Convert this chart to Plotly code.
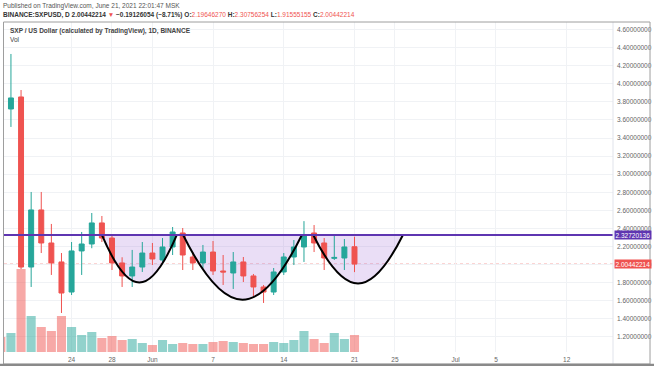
import plotly.graph_objects as go
import datetime as _dt

# ---------------- data ----------------
dates = ["2021-05-17", "2021-05-18", "2021-05-19", "2021-05-20", "2021-05-21", "2021-05-22",
         "2021-05-23", "2021-05-24", "2021-05-25", "2021-05-26", "2021-05-27", "2021-05-28",
         "2021-05-29", "2021-05-30", "2021-05-31", "2021-06-01", "2021-06-02", "2021-06-03",
         "2021-06-04", "2021-06-05", "2021-06-06", "2021-06-07", "2021-06-08", "2021-06-09",
         "2021-06-10", "2021-06-11", "2021-06-12", "2021-06-13", "2021-06-14", "2021-06-15",
         "2021-06-16", "2021-06-17", "2021-06-18", "2021-06-19", "2021-06-20", "2021-06-21"]
opens = [3.844, 3.722, 3.855, 1.972, 2.604, 2.238, 2.028, 1.695, 2.150, 2.227, 2.460, 2.293,
         2.017, 1.873, 1.972, 2.127, 2.050, 2.194, 2.349, 2.083, 2.017, 2.138, 1.928, 1.906,
         2.028, 1.873, 1.751, 1.695, 1.917, 2.083, 2.194, 2.349, 2.238, 2.068, 2.072, 2.19646270]
highs = [3.930, 4.331, 3.932, 2.803, 2.803, 2.449, 2.127, 2.249, 2.360, 2.570, 2.537, 2.330,
         2.080, 2.161, 2.249, 2.238, 2.293, 2.415, 2.404, 2.138, 2.216, 2.260, 2.105, 2.138,
         2.083, 1.895, 1.773, 1.961, 2.127, 2.271, 2.480, 2.437, 2.293, 2.316, 2.282, 2.30756254]
lows = [3.620, 3.523, 1.950, 1.751, 2.127, 1.884, 1.463, 1.662, 1.884, 2.180, 2.249, 1.939,
        1.751, 1.751, 1.917, 1.994, 2.017, 2.105, 1.939, 1.939, 1.961, 1.884, 1.773, 1.729,
        1.806, 1.651, 1.574, 1.662, 1.884, 1.994, 2.028, 2.138, 1.939, 2.050, 1.939, 1.91555155]
closes = [3.733, 3.844, 1.972, 2.604, 2.238, 2.017, 1.684, 2.150, 2.227, 2.460, 2.293, 2.017,
          1.873, 1.972, 2.127, 2.061, 2.194, 2.360, 2.105, 2.017, 2.138, 1.928, 1.917, 2.028,
          1.873, 1.751, 1.695, 1.917, 2.083, 2.194, 2.327, 2.238, 2.072, 2.078, 2.194, 2.00442214]
volumes_m = [15, 19, 83, 36, 25, 21, 36, 25, 17, 20, 14, 16, 12, 13, 9, 7, 12, 8, 9, 8, 8, 10,
             11, 10, 9, 8, 8, 10, 9, 12, 21, 13, 9, 19, 13, 17]

price_ticks = [1.2, 1.4, 1.6, 1.8, 2.0, 2.2, 2.4, 2.6, 2.8, 3.0, 3.2, 3.4, 3.6, 3.8, 4.0, 4.2, 4.4, 4.6]
time_tick_vals = ["2021-05-24", "2021-05-28", "2021-06-01", "2021-06-07", "2021-06-14",
                  "2021-06-21", "2021-06-25", "2021-07-01", "2021-07-05", "2021-07-12"]
time_tick_text = ["24", "28", "Jun", "7", "14", "21", "25", "Jul", "5", "12"]

resistance = 2.32720136
last_close = 2.00442214
# cup arcs: (start, end, bottom)
arcs = [("2021-05-27_00:00", "2021-06-03_10:00", 1.80),
        ("2021-06-04_01:00", "2021-06-15_19:00", 1.61),
        ("2021-06-16_22:00", "2021-06-25_19:00", 1.79)]

# ---------------- figure ----------------
UP, DOWN = "#26a69a", "#ef5350"
UP_V, DOWN_V = "rgba(38,166,154,0.5)", "rgba(239,83,80,0.5)"
vol_colors = [UP_V if c >= o else DOWN_V for o, c in zip(opens, closes)]

fig = go.Figure()
fig.add_trace(go.Bar(x=dates, y=volumes_m, marker_color=vol_colors, marker_line_width=0,
                     yaxis="y2", showlegend=False, hoverinfo="skip"))
fig.add_trace(go.Candlestick(x=dates, open=opens, high=highs, low=lows, close=closes,
                             increasing=dict(line=dict(color=UP, width=1), fillcolor=UP),
                             decreasing=dict(line=dict(color=DOWN, width=1), fillcolor=DOWN),
                             whiskerwidth=0, showlegend=False))


def _parse(s):
    return _dt.datetime.strptime(s.replace("_", " "), "%Y-%m-%d %H:%M")


def shift(s, frac, e):
    a, b = _parse(s), _parse(e)
    return (a + (b - a) * frac).strftime("%Y-%m-%d_%H:%M")


def arc_seg(s, e, bottom, top):
    h = top - bottom
    c1 = shift(s, 0.36, e)
    c2 = shift(s, 0.64, e)
    cy = top - h * 4.0 / 3.0
    return f"C {c1},{cy:.4f} {c2},{cy:.4f} {e},{top:.5f}"


fill_path = f"M {arcs[0][0]},{resistance:.5f} "
for i, (s, e, b) in enumerate(arcs):
    if i > 0:
        fill_path += f"L {s},{resistance:.5f} "
    fill_path += arc_seg(s, e, b, resistance) + " "
fill_path += "Z"

shapes = [
    dict(type="path", path=fill_path, xref="x", yref="y", fillcolor="rgba(160,105,214,0.22)",
         line=dict(width=0), layer="between"),
]
for s, e, b in arcs:
    shapes.append(dict(type="path", path=f"M {s},{resistance:.5f} " + arc_seg(s, e, b, resistance),
                       xref="x", yref="y", line=dict(color="#000000", width=2), layer="above"))
shapes += [
    dict(type="line", xref="paper", yref="y", x0=0, x1=1, y0=resistance, y1=resistance,
         line=dict(color="#5e35b1", width=2), layer="above"),
    dict(type="line", xref="paper", yref="y", x0=0, x1=1, y0=last_close, y1=last_close,
         line=dict(color="rgba(239,83,80,0.6)", width=1, dash="dot"), layer="between"),
    # frame
    dict(type="line", xref="paper", yref="paper", x0=1, x1=1, y0=-0.036, y1=1,
         line=dict(color="#e0e3eb", width=1)),
    dict(type="rect", xref="paper", yref="paper", x0=-0.0008, x1=1.0608, y0=-0.0364, y1=1.0,
         line=dict(color="#9e9e9e", width=1)),
    dict(type="line", xref="paper", yref="paper", x0=-0.007, x1=1.08, y0=-0.0405, y1=-0.0405,
         line=dict(color="#8a8a8a", width=3)),
]

FONT = "Liberation Sans"
annotations = [
    dict(xref="paper", yref="paper", x=-0.005, y=1.0485, xanchor="left", yanchor="middle",
         showarrow=False, text="Published on TradingView.com, June 21, 2021 22:01:47 MSK",
         font=dict(size=6.5, color="#555555", family=FONT)),
    dict(xref="paper", yref="paper", x=-0.005, y=1.022, xanchor="left", yanchor="middle",
         showarrow=False,
         text=("<b>BINANCE:SXPUSD, D 2.00442214</b> <span style='color:#ef5350'>▼</span> "
               "<b>−0.19126054 (−8.71%)</b> <b>O:</b><span style='color:#ef5350'>2.19646270</span> "
               "<b>H:</b><span style='color:#ef5350'>2.30756254</span> "
               "<b>L:</b><span style='color:#ef5350'>1.91555155</span> "
               "<b>C:</b><span style='color:#ef5350'>2.00442214</span>"),
         font=dict(size=6.5, color="#333333", family=FONT)),
    dict(xref="paper", yref="paper", x=0.0065, y=0.972, xanchor="left", yanchor="middle",
         showarrow=False, text="<b>SXP / US Dollar (calculated by TradingView), 1D, BINANCE</b>",
         font=dict(size=6.5, color="#444444", family=FONT)),
    dict(xref="paper", yref="paper", x=0.0065, y=0.948, xanchor="left", yanchor="middle",
         showarrow=False, text="Vol", font=dict(size=6.5, color="#444444", family=FONT)),
    dict(xref="paper", yref="y", x=1.002, y=resistance, xanchor="left", yanchor="middle",
         showarrow=False, text="2.32720136", bgcolor="#5e35b1", borderpad=0.5,
         font=dict(size=6.5, color="#ffffff", family=FONT)),
    dict(xref="paper", yref="y", x=1.002, y=last_close, xanchor="left", yanchor="middle",
         showarrow=False, text="2.00442214", bgcolor="#ef5350", borderpad=0.5,
         font=dict(size=6.5, color="#ffffff", family=FONT)),
]

fig.update_layout(
    width=654, height=366,
    margin=dict(l=4, r=41, t=22, b=14, autoexpand=False),
    paper_bgcolor="#ffffff", plot_bgcolor="#ffffff",
    showlegend=False,
    bargap=0.1,
    xaxis=dict(type="date", range=["2021-05-17 07:30", "2021-07-16 14:00"],
               rangeslider=dict(visible=False),
               tickvals=time_tick_vals, ticktext=time_tick_text,
               tickfont=dict(size=6.5, color="#666666", family=FONT),
               showgrid=True, gridcolor="#f0f2f5", gridwidth=1,
               showline=False, zeroline=False, ticks="", ticklabelstandoff=2),
    yaxis=dict(range=[1.031, 4.685], side="right", tickvals=price_ticks,
               tickformat=".8f",
               tickfont=dict(size=6.5, color="#666666", family=FONT),
               showgrid=True, gridcolor="#f0f2f5", gridwidth=1,
               zeroline=False, showline=False, ticks="", ticklabelstandoff=3),
    yaxis2=dict(range=[0, 330], overlaying="y", visible=False, showgrid=False),
    shapes=shapes,
    annotations=annotations,
)

fig.write_html("out.html", config={"displayModeBar": False},
               post_script="document.body.style.margin='0';document.body.style.overflow='hidden';")
